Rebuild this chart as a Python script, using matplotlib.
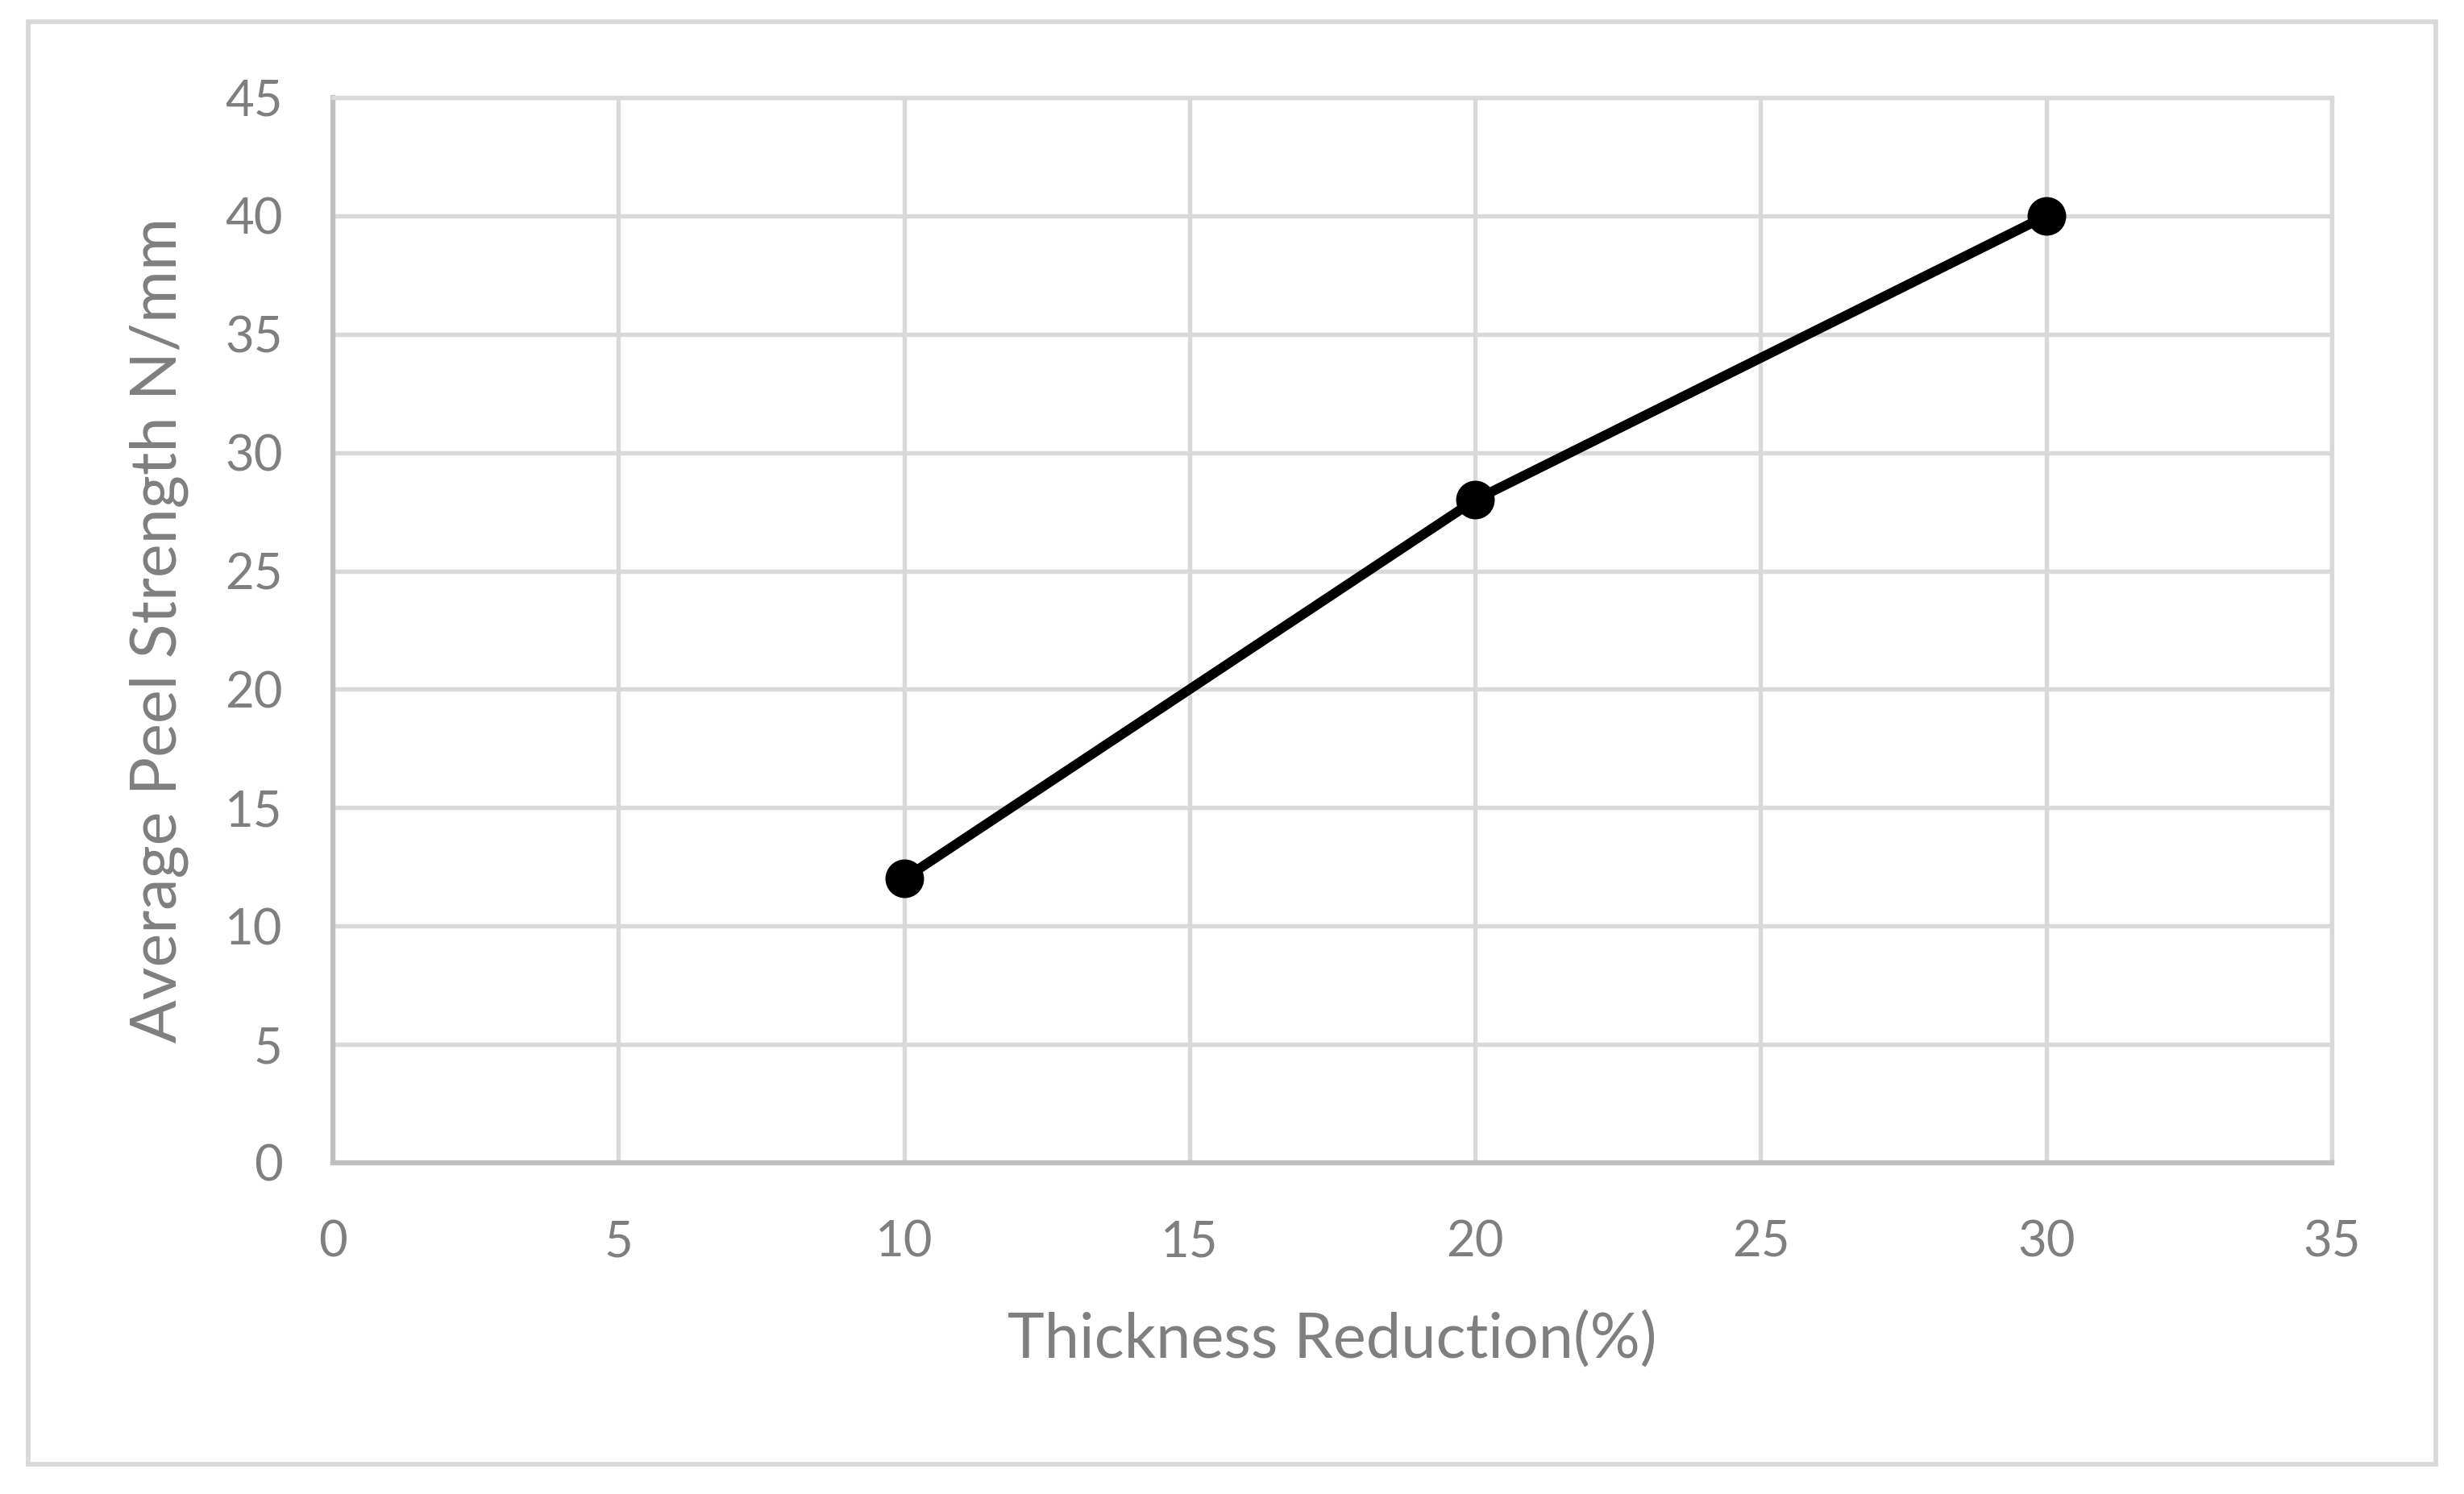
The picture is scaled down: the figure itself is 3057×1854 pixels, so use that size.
import matplotlib
matplotlib.use("Agg")
from matplotlib import pyplot as plt
from matplotlib.patches import Rectangle
import numpy as np

thickness_reduction = [10, 20, 30]
peel_strength = [12, 28, 40]

x_ticks = [0, 5, 10, 15, 20, 25, 30, 35]
y_ticks = [0, 5, 10, 15, 20, 25, 30, 35, 40, 45]

plt.rcParams['font.family'] = ['Lato', 'DejaVu Sans']

W, H = 3057, 1854
fig = plt.figure(figsize=(W / 300, H / 300), dpi=300)

# plot area in pixels: x 413..2893, y 121..1443
left, right, top, bottom = 413, 2893, 121, 1443
ax = fig.add_axes([left / W, 1 - bottom / H, (right - left) / W, (bottom - top) / H])

grid_c = '#d9d9d9'
axis_c = '#bfbfbf'
text_c = '#7f7f7f'

ax.plot(thickness_reduction, peel_strength, color='black', linewidth=2.9,
        marker='o', markersize=10.5, zorder=5)

ax.set_xlim(0, 35)
ax.set_ylim(0, 45)
ax.set_xticks(x_ticks)
ax.set_yticks(y_ticks)
ax.grid(True, color=grid_c, linewidth=1.3)
ax.set_axisbelow(True)

for s in ['top', 'right']:
    ax.spines[s].set_color(grid_c)
    ax.spines[s].set_linewidth(1.3)
for s in ['left', 'bottom']:
    ax.spines[s].set_color(axis_c)
    ax.spines[s].set_linewidth(1.5)

ax.tick_params(axis='both', length=0, labelsize=14.8, labelcolor=text_c)
ax.tick_params(axis='x', pad=17)
ax.tick_params(axis='y', pad=15)

ax.set_xlabel('Thickness Reduction(%)', fontsize=18.6, color=text_c, va='center')
ax.xaxis.set_label_coords(0.5, (bottom - 1663) / (bottom - top))
ax.set_ylabel('Average Peel Strength N/mm', fontsize=19, color=text_c, va='center')
ax.yaxis.set_label_coords((197 - left) / (right - left), 0.5)

# outer chart border
fig.patches.append(Rectangle((35 / W, 1 - 1817 / H), (3022 - 35) / W, (1817 - 27) / H,
                             transform=fig.transFigure, fill=False,
                             edgecolor=grid_c, linewidth=1.4))

fig.savefig('out.png', dpi=300, facecolor='white')
